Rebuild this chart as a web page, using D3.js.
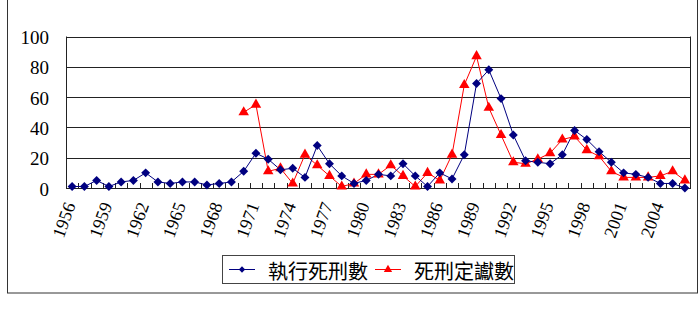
<!DOCTYPE html>
<html>
<head>
<meta charset="utf-8">
<script src="https://cdn.jsdelivr.net/npm/d3@7"></script>
<style>
body { margin: 0; background: #fff; }
svg { display: block; }
</style>
</head>
<body>
<svg width="700" height="311"></svg>
<script>
var years = [1956,1957,1958,1959,1960,1961,1962,1963,1964,1965,1966,1967,1968,1969,1970,
  1971,1972,1973,1974,1975,1976,1977,1978,1979,1980,1981,1982,1983,1984,1985,1986,1987,
  1988,1989,1990,1991,1992,1993,1994,1995,1996,1997,1998,1999,2000,2001,2002,2003,2004,2005,2006];

// 執行死刑數
var executed = [1,1,5,1,4,5,10,4,3,4,4,2,3,4,11,
  23,19,12,13,7,28,16,8,3,5,9,8,16,8,1,10,6,
  22,69,78,59,35,18,17,16,22,38,32,24,17,10,9,7,3,3,0];

// 死刑定讞數 (no data before 1970)
var sentenced = [null,null,null,null,null,null,null,null,null,null,null,null,null,null,50,
  55,11,13,3,22,15,8,1,3,9,9,15,8,1,10,5,22,
  68,87,53,35,17,16,19,23,32,34,25,21,11,7,7,7,8,11,5];

var yTicks = [0,20,40,60,80,100];
var xTickLabels = ["1956","1959","1962","1965","1968","1971","1974","1977","1980","1983",
  "1986","1989","1992","1995","1998","2001","2004"];
var seriesNames = ["執行死刑數","死刑定讞數"];

var svg = d3.select("svg");
var navy = "#000080";
var red = "#ff0000";

// outer chart frame
svg.append("rect")
  .attr("x", 7.5)
  .attr("y", -2)
  .attr("width", 690)
  .attr("height", 295)
  .attr("fill", "none")
  .attr("stroke", "#333");

var xScale = d3.scaleBand().domain(years).range([66, 691]);
var yScale = d3.scaleLinear().domain([0, 100]).range([188, 36.5]);
var cx = function(yr) { return xScale(yr) + xScale.bandwidth() / 2; };

// gridlines
svg.append("g")
  .selectAll("line")
  .data(yTicks)
  .enter()
  .append("line")
  .attr("x1", 66)
  .attr("x2", 691)
  .attr("y1", (d)=>Math.round(yScale(d)) + 0.5)
  .attr("y2", (d)=>Math.round(yScale(d)) + 0.5)
  .attr("stroke", "#222")
  .attr("stroke-width", 1);

// plot borders
svg.append("line")
  .attr("x1", 66.5).attr("x2", 66.5)
  .attr("y1", yScale(100)).attr("y2", yScale(0) + 1)
  .attr("stroke", "#222");
svg.append("line")
  .attr("x1", 690.5).attr("x2", 690.5)
  .attr("y1", yScale(100)).attr("y2", yScale(0) + 1)
  .attr("stroke", "#222");

// y labels
svg.append("g")
  .selectAll("text")
  .data(yTicks)
  .enter()
  .append("text")
  .attr("x", 49)
  .attr("y", (d)=>yScale(d) + 1)
  .attr("text-anchor", "end")
  .attr("dominant-baseline", "central")
  .style("font-family", "'Liberation Serif', 'DejaVu Serif', serif")
  .style("font-size", "19px")
  .attr("fill", "#000")
  .text((d)=>d);

// x ticks between categories, pointing up
svg.append("g")
  .selectAll("line")
  .data(years.slice(1))
  .enter()
  .append("line")
  .attr("x1", (d)=>Math.round(xScale(d)) + 0.5)
  .attr("x2", (d)=>Math.round(xScale(d)) + 0.5)
  .attr("y1", yScale(0) - 5)
  .attr("y2", yScale(0))
  .attr("stroke", "#222");

// x labels, rotated
svg.append("g")
  .selectAll("text")
  .data(xTickLabels)
  .enter()
  .append("text")
  .attr("transform", (d)=>"translate(" + (cx(+d) - 2) + ",203) rotate(-70)")
  .attr("text-anchor", "end")
  .attr("dominant-baseline", "central")
  .style("font-family", "'Liberation Serif', 'DejaVu Serif', serif")
  .style("font-size", "18px")
  .attr("fill", "#000")
  .text((d)=>d);

var execData = years.map(function(y, i) { return {year: y, val: executed[i]}; });
var sentData = years.map(function(y, i) { return {year: y, val: sentenced[i]}; });

var line = d3.line()
  .defined((d)=>d.val !== null)
  .x((d)=>cx(d.year))
  .y((d)=>yScale(d.val));

svg.append("path")
  .datum(sentData)
  .attr("d", line)
  .attr("fill", "none")
  .attr("stroke", red)
  .attr("stroke-width", 1);

svg.append("path")
  .datum(execData)
  .attr("d", line)
  .attr("fill", "none")
  .attr("stroke", navy)
  .attr("stroke-width", 1);

var diamond = d3.symbol().type(d3.symbolSquare).size(40);
var triangle = d3.symbol().type(d3.symbolTriangle).size(48);

svg.append("g")
  .selectAll("path")
  .data(sentData.filter((d)=>d.val !== null))
  .enter()
  .append("path")
  .attr("d", triangle)
  .attr("transform", (d)=>"translate(" + cx(d.year) + "," + yScale(d.val) + ")")
  .attr("fill", red);

svg.append("g")
  .selectAll("path")
  .data(execData)
  .enter()
  .append("path")
  .attr("d", diamond)
  .attr("transform", (d)=>"translate(" + cx(d.year) + "," + yScale(d.val) + ") rotate(45)")
  .attr("fill", navy);

// legend
var legend = svg.append("g");
legend.append("rect")
  .attr("x", 222.5)
  .attr("y", 255.5)
  .attr("width", 292)
  .attr("height", 28)
  .attr("fill", "#fff")
  .attr("stroke", "#444");

var legendItems = [
  {name: seriesNames[0], color: navy, sym: d3.symbol().type(d3.symbolSquare).size(20), rot: 45, x0: 229},
  {name: seriesNames[1], color: red, sym: d3.symbol().type(d3.symbolTriangle).size(30), rot: 0, x0: 375}
];

var li = legend.selectAll(".item")
  .data(legendItems)
  .enter()
  .append("g")
  .attr("class", "item");

li.append("line")
  .attr("x1", (d)=>d.x0)
  .attr("x2", (d)=>d.x0 + 26)
  .attr("y1", 269.5)
  .attr("y2", 269.5)
  .attr("stroke", (d)=>d.color);

li.append("path")
  .attr("d", (d)=>d.sym())
  .attr("transform", (d)=>"translate(" + (d.x0 + 13) + ",269.5) rotate(" + d.rot + ")")
  .attr("fill", (d)=>d.color);

li.append("text")
  .attr("x", (d)=>d.x0 + 39)
  .attr("y", 270)
  .attr("dominant-baseline", "central")
  .style("font-family", "'Noto Sans CJK TC', 'Noto Sans CJK SC', sans-serif")
  .style("font-size", "20px")
  .attr("fill", "#000")
  .text((d)=>d.name);
</script>
</body>
</html>
